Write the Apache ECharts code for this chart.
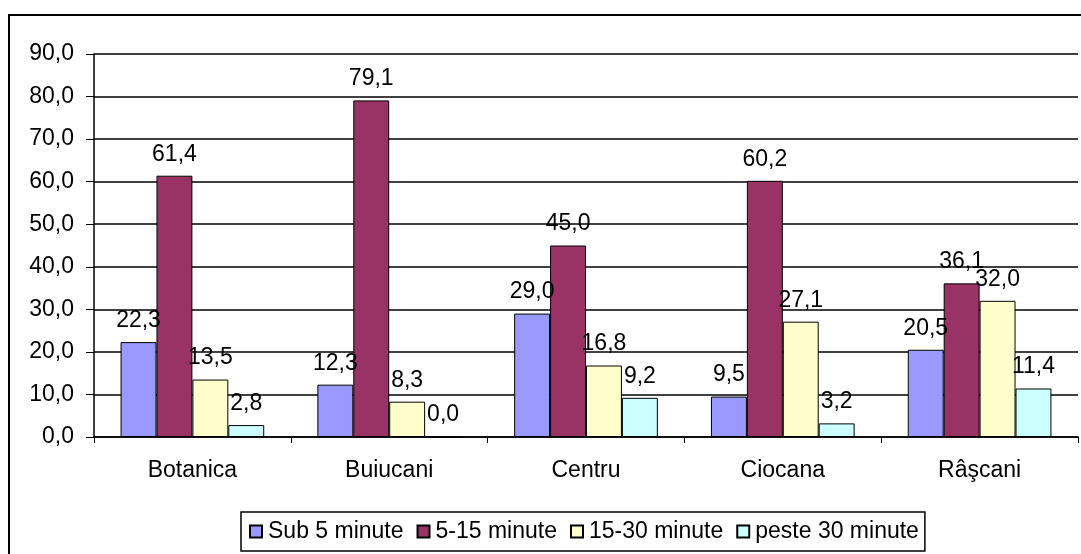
<!DOCTYPE html>
<html>
<head>
<meta charset="utf-8">
<script src="https://cdn.jsdelivr.net/npm/echarts@6/dist/echarts.min.js"></script>
<style>
html,body{margin:0;padding:0;background:#fff;}
#chart{width:1081px;height:554px;}
</style>
</head>
<body>
<div id="chart"></div>
<script>
var categories = ['Botanica', 'Buiucani', 'Centru', 'Ciocana', 'Râşcani'];
var seriesNames = ['Sub 5 minute', '5-15 minute', '15-30 minute', 'peste 30 minute'];
var sub5 = [22.3, 12.3, 29.0, 9.5, 20.5];
var m5to15 = [61.4, 79.1, 45.0, 60.2, 36.1];
var m15to30 = [13.5, 8.3, 16.8, 27.1, 32.0];
var peste30 = [2.8, 0.0, 9.2, 3.2, 11.4];
var colors = ['#9999FF', '#993366', '#FFFFCC', '#CCFFFF'];

var FONT = '"Liberation Sans", Arial, sans-serif';
var FS = 23;
function fmt(v) { return Number(v).toFixed(1).replace('.', ','); }

var dataSets = [sub5, m5to15, m15to30, peste30];
var series = dataSets.map(function (d, i) {
  return {
    name: seriesNames[i],
    type: 'bar',
    data: d,
    barGap: '0%',
    barCategoryGap: '27%',
    itemStyle: { color: colors[i], borderColor: '#000', borderWidth: 1 },
    label: {
      show: true,
      position: 'top',
      distance: 10,
      color: '#000',
      fontFamily: FONT,
      fontSize: FS,
      formatter: function (p) { return fmt(p.value); }
    }
  };
});

var chart = echarts.init(document.getElementById('chart'), null, { renderer: 'canvas' });
chart.setOption({
  animation: false,
  backgroundColor: '#fff',
  textStyle: { fontFamily: FONT },
  graphic: [{
    type: 'rect',
    shape: { x: 9, y: 15, width: 1200, height: 700 },
    style: { fill: 'none', stroke: '#000', lineWidth: 2 },
    silent: true,
    z: -10
  }],
  grid: { left: 94, right: 3, top: 54, bottom: 117, containLabel: false },
  legend: {
    data: seriesNames,
    left: 241,
    top: 512,
    icon: 'rect',
    itemWidth: 12,
    itemHeight: 12,
    itemGap: 13,
    padding: [8, 6, 8, 8],
    borderColor: '#000',
    borderWidth: 1.5,
    textStyle: { fontFamily: FONT, fontSize: FS, color: '#000', padding: [0, 0, 0, 1] }
  },
  xAxis: {
    type: 'category',
    data: categories,
    axisLine: { lineStyle: { color: '#000', width: 1.5 } },
    axisTick: { show: true, length: 6, lineStyle: { color: '#000' } },
    axisLabel: { color: '#000', fontFamily: FONT, fontSize: FS, margin: 22 }
  },
  yAxis: {
    type: 'value',
    min: 0,
    max: 90,
    interval: 10,
    axisLine: { show: true, lineStyle: { color: '#000', width: 1.5 } },
    axisTick: { show: true, length: 8, lineStyle: { color: '#000' } },
    axisLabel: { color: '#000', fontFamily: FONT, fontSize: FS, margin: 20, formatter: fmt },
    splitLine: { show: true, lineStyle: { color: '#000', width: 1.5 } }
  },
  series: series
});
</script>
</body>
</html>
